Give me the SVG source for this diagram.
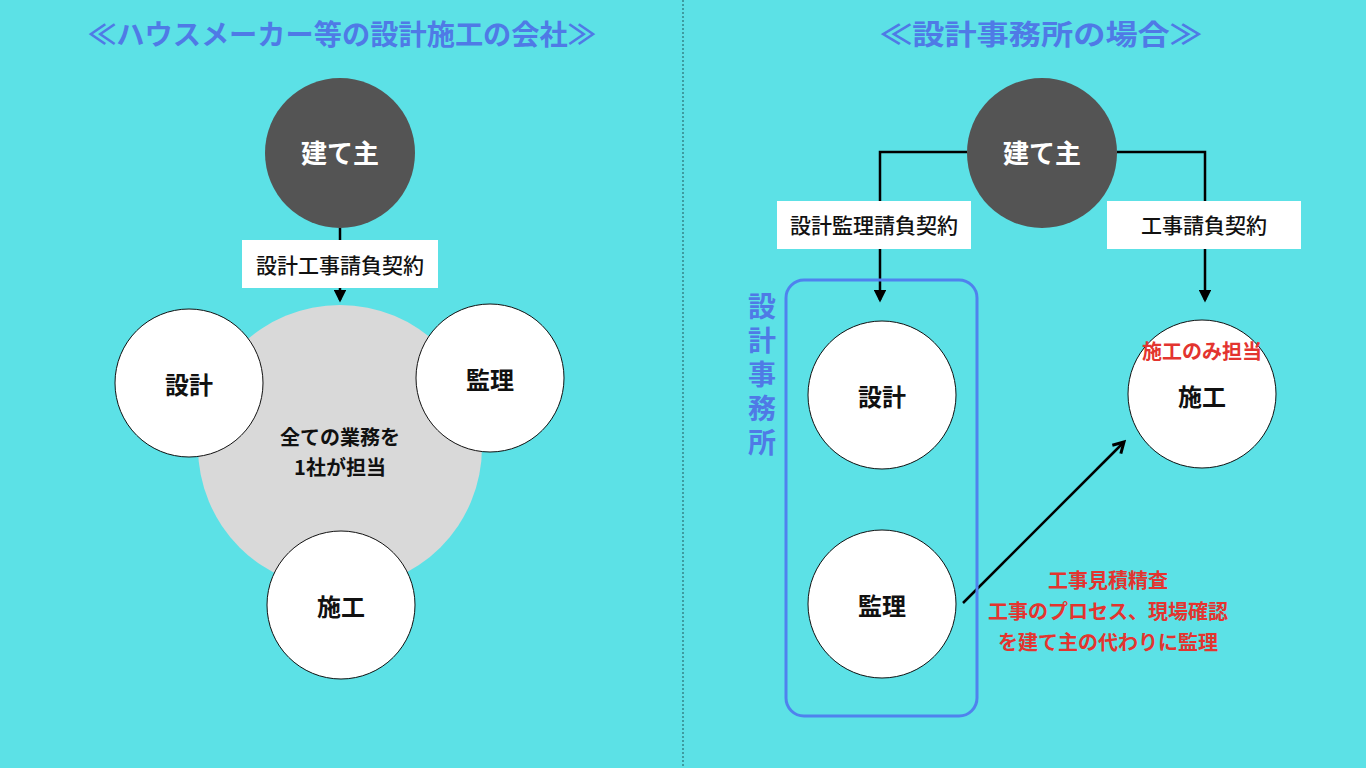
<svg xmlns="http://www.w3.org/2000/svg" width="1366" height="768" viewBox="0 0 1366 768">
<defs>
<style>
text{font-family:"Noto Sans CJK JP","Noto Sans",sans-serif;font-weight:bold;text-anchor:middle;dominant-baseline:central}
.title{font-size:28px;fill:#4f7ae6}
.node{fill:#fff;stroke:#111;stroke-width:1}
.owner{fill:#545454}
.ownert{fill:#fff;font-size:26px}
.nt{fill:#111;font-size:24px}
.lbl{fill:#fff}
.lt{fill:#111;font-size:21px;font-weight:500}
.red{fill:#e3342f;font-size:20px}
.conn{fill:none;stroke:#000;stroke-width:2.5}
</style>
<marker id="ah" viewBox="0 0 10 10" refX="8" refY="5" markerWidth="5" markerHeight="5" orient="auto" markerUnits="strokeWidth">
<path d="M0,0 L10,5 L0,10 z" fill="#000"/>
</marker>
<marker id="chev" viewBox="0 0 10 10" refX="8" refY="5" markerWidth="6" markerHeight="6" orient="auto" markerUnits="strokeWidth">
<path d="M1,1 L8,5 L1,9" fill="none" stroke="#000" stroke-width="2"/>
</marker>
</defs>
<rect width="1366" height="768" fill="#5ce1e6"/>
<line x1="683" y1="0" x2="683" y2="768" stroke="#2b6f73" stroke-width="1.2" stroke-dasharray="2,2"/>

<text class="title" x="342" y="33" textLength="508" lengthAdjust="spacingAndGlyphs">≪ハウスメーカー等の設計施工の会社≫</text>
<text class="title" x="1041" y="33" textLength="322" lengthAdjust="spacingAndGlyphs">≪設計事務所の場合≫</text>

<g id="connectors">
<line class="conn" x1="340" y1="228" x2="340" y2="300" marker-end="url(#ah)"/>
<polyline class="conn" points="967,152 880,152 880,300" marker-end="url(#ah)"/>
<polyline class="conn" points="1117,152 1205,152 1205,300" marker-end="url(#ah)"/>
<line class="conn" x1="963" y1="603" x2="1124" y2="442" stroke-width="3" marker-end="url(#chev)"/>
</g>

<g id="left-contract"><rect class="lbl" x="242" y="240" width="196" height="48"/><text class="lt" x="340" y="264">設計工事請負契約</text></g>

<g id="left-company"><circle cx="340" cy="447" r="142" fill="#d9d9d9"/><text x="340" y="436" font-size="20" fill="#111" font-weight="500">全ての業務を</text><text x="340" y="466" font-size="20" fill="#111" font-weight="500">1社が担当</text></g>

<g id="left-owner"><circle class="owner" cx="340" cy="153" r="75"/><text class="ownert" x="340" y="151">建て主</text></g>
<g id="left-design"><circle class="node" cx="189" cy="383" r="74"/><text class="nt" x="189" y="383">設計</text></g>
<g id="left-supervision"><circle class="node" cx="490" cy="378" r="74"/><text class="nt" x="490" y="378">監理</text></g>
<g id="left-construction"><circle class="node" cx="341" cy="605" r="74"/><text class="nt" x="341" y="605">施工</text></g>

<g id="right-owner"><circle class="owner" cx="1042" cy="153" r="75"/><text class="ownert" x="1042" y="151">建て主</text></g>
<g id="right-contract1"><rect class="lbl" x="777" y="201" width="194" height="48"/><text class="lt" x="874" y="224">設計監理請負契約</text></g>
<g id="right-contract2"><rect class="lbl" x="1107" y="201" width="194" height="48"/><text class="lt" x="1204" y="224">工事請負契約</text></g>

<g id="office">
<rect x="786" y="280" width="191" height="436" rx="18" fill="none" stroke="#4f82ee" stroke-width="3"/>
<text font-size="28" fill="#4f7ae6" x="762" y="377" writing-mode="vertical-rl" letter-spacing="6">設計事務所</text>
</g>
<g id="right-design"><circle class="node" cx="882" cy="395" r="74"/><text class="nt" x="882" y="395">設計</text></g>
<g id="right-supervision"><circle class="node" cx="882" cy="604" r="74"/><text class="nt" x="882" y="604">監理</text></g>
<g id="right-construction"><circle class="node" cx="1202" cy="394" r="74"/><text class="nt" x="1202" y="395">施工</text><text class="red" x="1202" y="350">施工のみ担当</text></g>

<g id="note">
<text class="red" x="1108" y="579">工事見積精査</text>
<text class="red" x="1108" y="610">工事のプロセス、現場確認</text>
<text class="red" x="1108" y="641">を建て主の代わりに監理</text>
</g>
</svg>
